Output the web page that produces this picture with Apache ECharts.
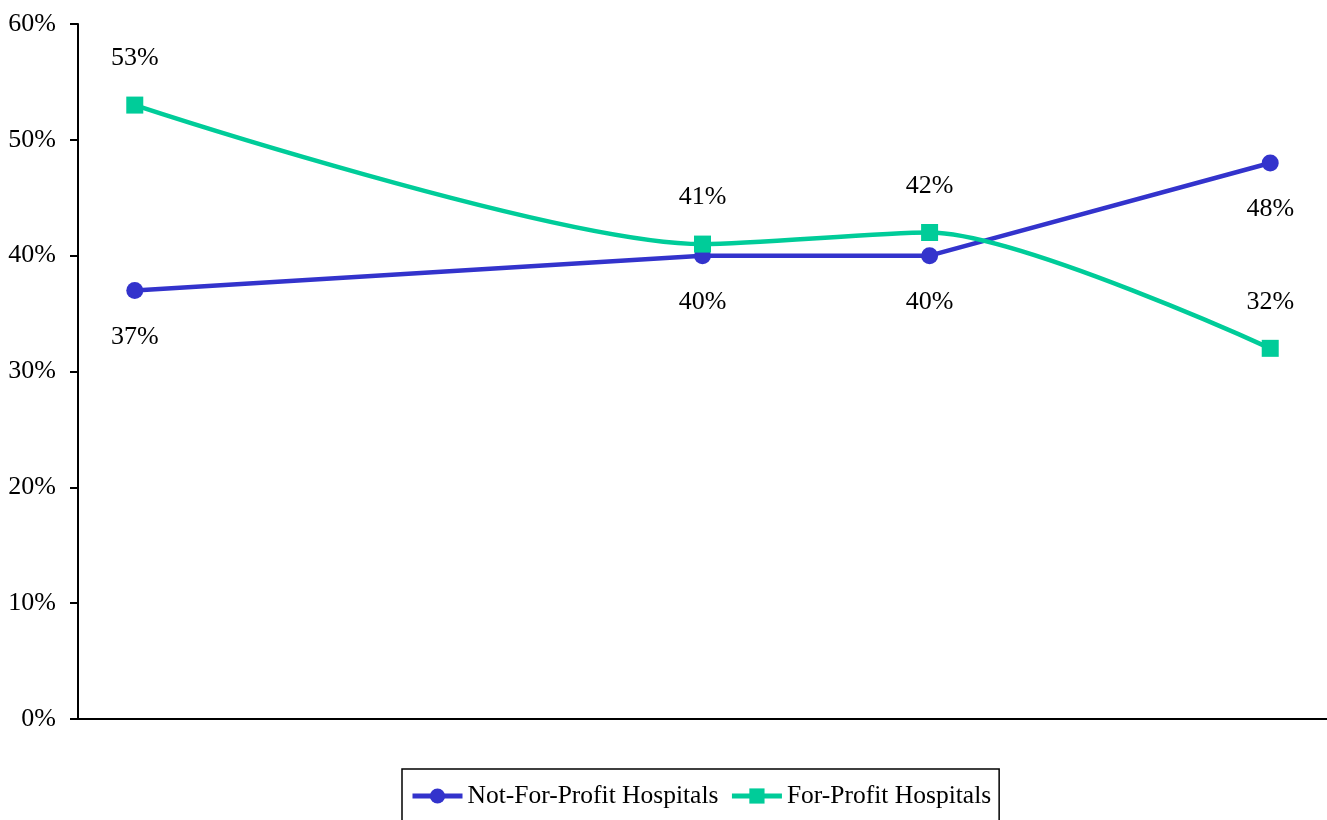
<!DOCTYPE html>
<html>
<head>
<meta charset="utf-8">
<script src="https://cdn.jsdelivr.net/npm/echarts@6/dist/echarts.min.js"></script>
<style>
  html, body { margin: 0; padding: 0; background: #fff; }
  #main { width: 1327px; height: 820px; }
</style>
</head>
<body>
<div id="main"></div>
<script>
// x positions of the four observations (axis carries no labels)
var xPositions = [0, 5, 7, 10];
var notForProfit = [37, 40, 40, 48];
var forProfit = [53, 41, 42, 32];
var yTicks = [0, 10, 20, 30, 40, 50, 60];

var seriesNames = ['Not-For-Profit Hospitals', 'For-Profit Hospitals'];
var FONT = '"Liberation Serif", "Times New Roman", serif';

function pairs(vals) {
  return vals.map(function (v, i) { return [xPositions[i], v]; });
}

var chart = echarts.init(document.getElementById('main'));
chart.setOption({
  animation: false,
  textStyle: { fontFamily: FONT },
  grid: { left: 78, right: 0, top: 24, bottom: 101, containLabel: false },
  xAxis: {
    type: 'value',
    min: -0.5,
    max: 10.5,
    axisLine: { show: true, onZero: false, lineStyle: { color: '#000', width: 2 } },
    axisTick: { show: false },
    axisLabel: { show: false },
    splitLine: { show: false }
  },
  yAxis: {
    type: 'value',
    min: yTicks[0],
    max: yTicks[yTicks.length - 1],
    interval: 10,
    axisLine: { show: true, onZero: false, lineStyle: { color: '#000', width: 2 } },
    axisTick: { show: true, length: 8, lineStyle: { color: '#000', width: 2 } },
    axisLabel: {
      formatter: '{value}%',
      color: '#000',
      fontSize: 26,
      fontFamily: FONT,
      margin: 22
    },
    splitLine: { show: false }
  },
  legend: {
    data: seriesNames,
    left: 402,
    top: 769,
    orient: 'horizontal',
    borderColor: '#000',
    borderWidth: 1.5,
    padding: [14, 8, 20, 8],
    itemWidth: 50,
    itemHeight: 19,
    itemGap: 11,
    lineStyle: { width: 5 },
    textStyle: { color: '#000', fontSize: 25.5, fontFamily: FONT }
  },
  series: [
    {
      name: seriesNames[0],
      type: 'line',
      data: pairs(notForProfit),
      symbol: 'circle',
      symbolSize: 17,
      lineStyle: { color: '#3333CC', width: 4.5 },
      itemStyle: { color: '#3333CC' },
      label: {
        show: true,
        position: 'bottom',
        distance: 25,
        formatter: function (p) { return p.value[1] + '%'; },
        color: '#000',
        fontSize: 26,
        fontFamily: FONT
      }
    },
    {
      name: seriesNames[1],
      type: 'line',
      data: pairs(forProfit),
      smooth: 0.25,
      symbol: 'rect',
      symbolSize: 17,
      lineStyle: { color: '#00CC99', width: 4.5 },
      itemStyle: { color: '#00CC99' },
      label: {
        show: true,
        position: 'top',
        distance: 25,
        formatter: function (p) { return p.value[1] + '%'; },
        color: '#000',
        fontSize: 26,
        fontFamily: FONT
      }
    }
  ]
});
</script>
</body>
</html>
